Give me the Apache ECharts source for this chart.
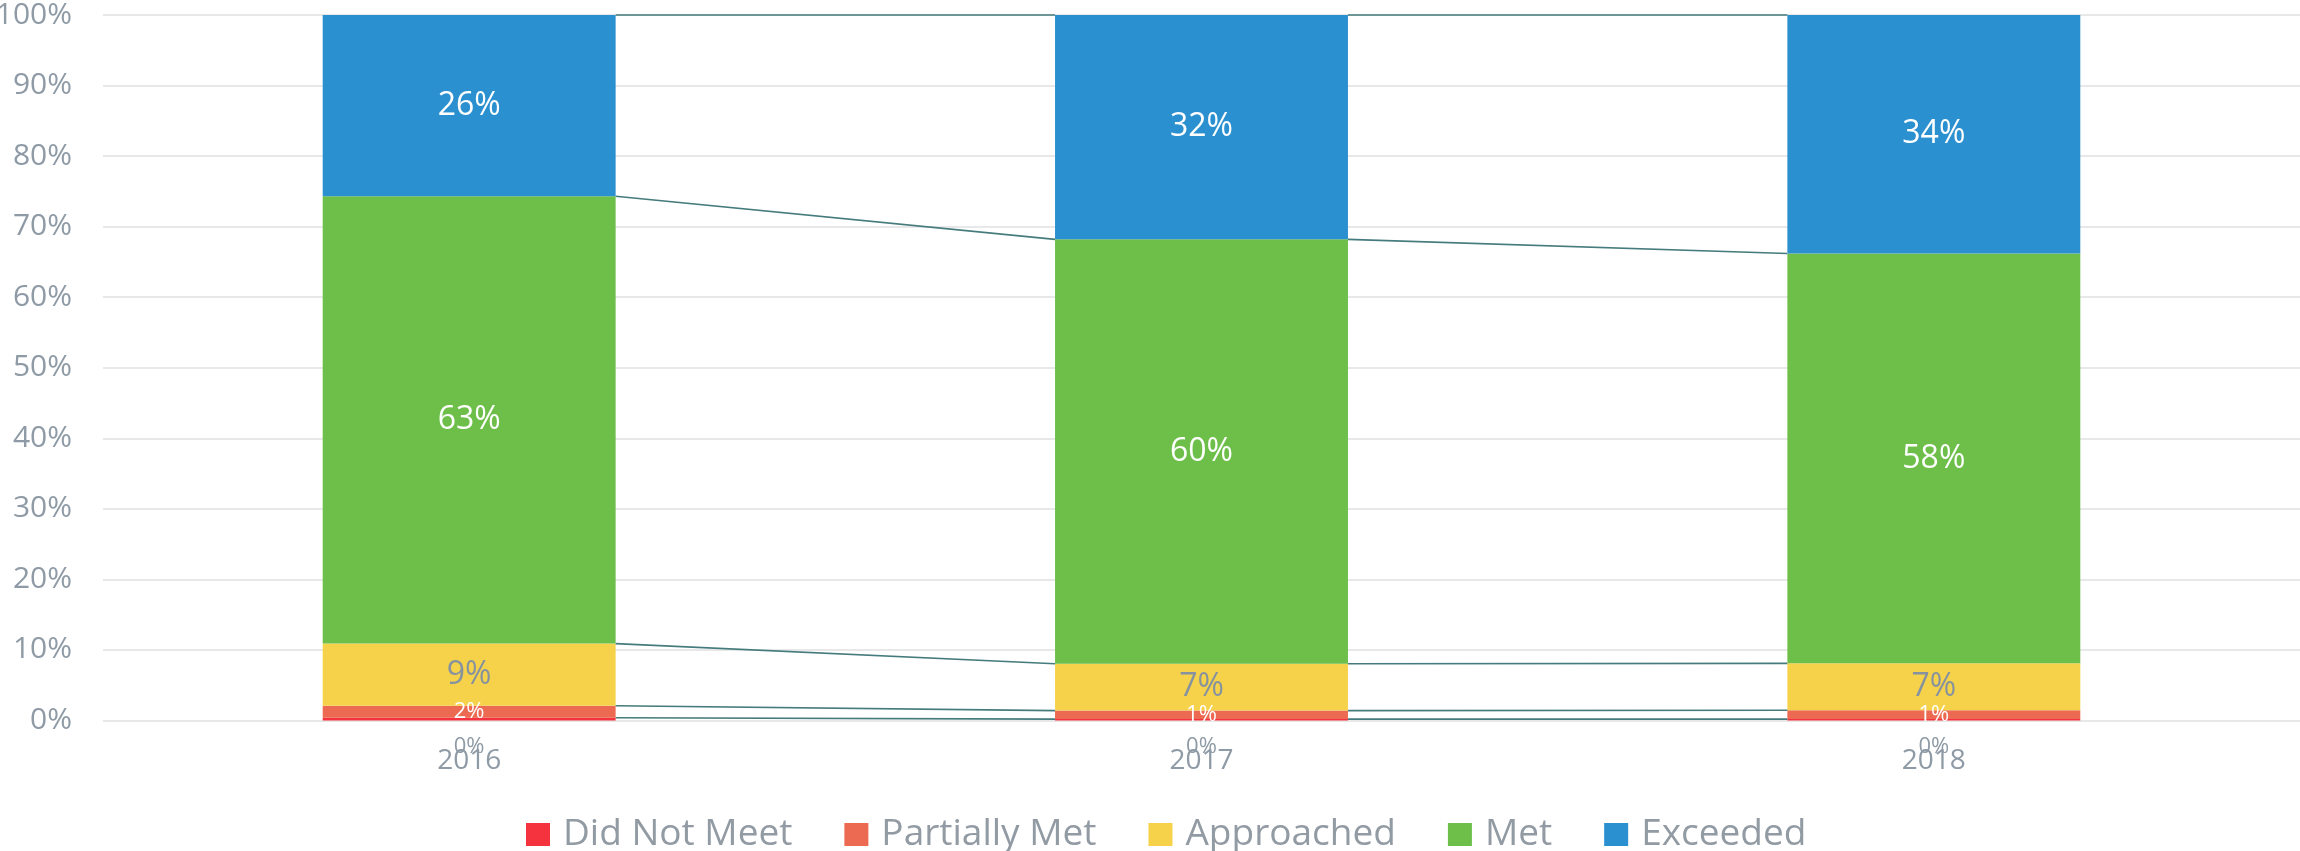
<!DOCTYPE html>
<html>
<head>
<meta charset="utf-8">
<script src="https://cdn.jsdelivr.net/npm/echarts@6/dist/echarts.min.js"></script>
<style>html,body{margin:0;padding:0;background:#fff}#c{width:2300px;height:851px}</style>
</head>
<body>
<div id="c"></div>
<script>
var years = ['2016', '2017', '2018'];
var seriesNames = ['Did Not Meet', 'Partially Met', 'Approached', 'Met', 'Exceeded'];
var didNotMeet = [0.4, 0.2, 0.2];
var partiallyMet = [1.7, 1.2, 1.25];
var approached = [8.8, 6.65, 6.65];
var met = [63.4, 60.15, 58.1];
var exceeded = [25.7, 31.8, 33.8];
var yTicks = [0, 10, 20, 30, 40, 50, 60, 70, 80, 90, 100];

var colors = ['#F5333F', '#EC6A52', '#F6D24B', '#6DBF4A', '#2B90CF'];
var grayText = '#8e9aa5';
var FONT = 'Open Sans';
var allValues = [didNotMeet, partiallyMet, approached, met, exceeded];

// connector line data: [fromIndex, fromCum, toCum]
var connectors = [];
var cums = years.map(function (_, i) {
  var c = 0, arr = [];
  allValues.forEach(function (s) { c += s[i]; arr.push(c); });
  return arr;
});
for (var i = 0; i < years.length - 1; i++) {
  for (var k = 0; k < allValues.length; k++) {
    connectors.push([i, cums[i][k], cums[i + 1][k]]);
  }
}

var barPct = 0.4;
function fmt(p) { return Math.round(p.value) + '%'; }

var labelCfg = [
  { show: true, position: 'bottom', distance: 15, color: grayText, fontSize: 22, fontFamily: FONT, formatter: fmt },
  { show: true, position: 'inside', color: '#ffffff', fontSize: 22, fontFamily: FONT, formatter: fmt },
  { show: true, position: 'inside', color: '#86939f', fontSize: 32, fontFamily: FONT, formatter: fmt },
  { show: true, position: 'inside', color: '#ffffff', fontSize: 32, fontFamily: FONT, formatter: fmt },
  { show: true, position: 'inside', color: '#ffffff', fontSize: 32, fontFamily: FONT, formatter: fmt }
];

var series = allValues.map(function (vals, idx) {
  return {
    name: seriesNames[idx],
    type: 'bar',
    stack: 'total',
    barWidth: (barPct * 100) + '%',
    data: vals,
    itemStyle: { color: colors[idx] },
    label: labelCfg[idx],
    z: 2
  };
});

series.push({
  type: 'custom',
  data: connectors,
  z: 3,
  silent: true,
  renderItem: function (params, api) {
    var i = api.value(0);
    var p1 = api.coord([i, api.value(1)]);
    var p2 = api.coord([i + 1, api.value(2)]);
    var bw = api.size([1, 0])[0];
    var half = bw * barPct / 2;
    return {
      type: 'line',
      shape: { x1: p1[0] + half, y1: p1[1], x2: p2[0] - half, y2: p2[1] },
      style: { stroke: '#457b7c', lineWidth: 1.6 }
    };
  },
  encode: { x: 0, y: 1 }
});

var chart = echarts.init(document.getElementById('c'));
chart.setOption({
  animation: false,
  backgroundColor: '#ffffff',
  grid: { left: 103, right: 0, top: 15, bottom: 130.5, containLabel: false, outerBoundsMode: 'none' },
  legend: {
    data: seriesNames,
    left: 521,
    top: 811,
    itemWidth: 24,
    itemHeight: 23,
    itemGap: 52,
    icon: 'rect',
    textStyle: { color: '#929ba3', fontSize: 37, fontFamily: FONT, padding: [0, 0, 0, 8] }
  },
  xAxis: {
    type: 'category',
    data: years,
    axisLine: { show: false },
    axisTick: { show: false },
    axisLabel: { color: grayText, fontSize: 28, fontFamily: FONT, margin: 27 }
  },
  yAxis: {
    type: 'value',
    min: yTicks[0],
    max: yTicks[yTicks.length - 1],
    interval: 10,
    axisLine: { show: false },
    axisTick: { show: false },
    splitLine: { lineStyle: { color: '#e8e8e8', width: 2 } },
    axisLabel: { color: grayText, fontSize: 30, fontFamily: FONT, margin: 31, formatter: '{value}%' }
  },
  series: series
});
</script>
</body>
</html>
